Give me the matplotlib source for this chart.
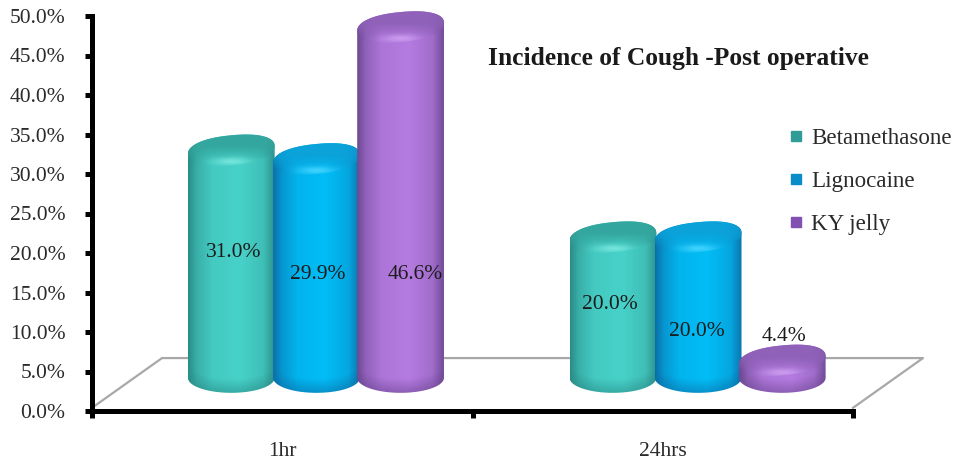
import numpy as np
from matplotlib import pyplot as plt
from matplotlib.colors import to_rgb
from matplotlib.lines import Line2D
from matplotlib.path import Path
from matplotlib.ticker import FixedLocator, FuncFormatter, NullFormatter

plt.rcParams['font.family'] = ['Liberation Serif', 'DejaVu Serif']

categories = ['1hr', '24hrs']
series_names = ['Betamethasone', 'Lignocaine', 'KY jelly']
betamethasone = [31.0, 20.0]
lignocaine = [29.9, 20.0]
ky_jelly = [46.6, 4.4]
series_values = [betamethasone, lignocaine, ky_jelly]

# label places, they do not follow the bar tops
label_heights = [[20.1, 13.5], [17.3, 10.0], [17.3, 9.4]]
label_x = [[0.371, 1.361], [0.594, 1.590], [0.849, 1.819]]

# edge, body, cap, highlight
palettes = [
    ['#2a8d88', '#47d2c9', '#34a8a0', '#7be8de'],
    ['#0b6fa9', '#02bdf6', '#0ba2da', '#4ad6ff'],
    ['#6d4893', '#b57be1', '#9062ba', '#cda0f0'],
]
legend_colors = ['#2f9c96', '#0a8cc8', '#8250b0']

# 3D look of the floor, in data units
floor_y = 4.2
top_shift = 2.0
half_w = 0.114
radius_y = 1.9
tilt = 4.5
offsets = [-0.217, 0.007, 0.228]
centers = [0.583, 1.586]


def side_ramp(u):
    return np.interp(u, [0, 0.1, 0.28, 0.6, 0.87, 1], [0, 0.5, 0.88, 1, 0.72, 0.08])


def rounded(t):
    # a bit squarer than an ellipse, gives the round shoulders of the cap
    c, s = np.cos(t), np.sin(t)
    return np.sign(c) * np.abs(c) ** 0.88, np.sign(s) * np.abs(s) ** 0.88


def body_image(pal, y0, y1):
    u, y = np.meshgrid(np.linspace(0, 1, 128), np.linspace(y0, y1, 300))
    t = side_ramp(u)[..., None]
    edge = np.array(to_rgb(pal[0]))
    img = edge * (1 - t) + np.array(to_rgb(pal[1])) * t
    # darker towards the bottom rim
    lower = floor_y - radius_y * np.sqrt(np.clip(1 - (2 * u - 1) ** 2, 0, 1))
    dark = np.clip(1 - (y - lower) / 1.8, 0, 1)[..., None] * 0.55
    return img * (1 - dark) + edge * dark


def cap_image(pal):
    s, v = np.meshgrid(np.linspace(0, 1, 80), np.linspace(-1, 1, 60))
    u = 2 * s - 1
    t = side_ramp(s)[..., None]
    edge = np.array(to_rgb(pal[0]))
    rim = edge * (1 - t) + np.array(to_rgb(pal[1])) * t
    base = np.array(to_rgb(pal[2]))
    high = np.array(to_rgb(pal[3]))
    # v=-1 is the front rim, it runs into the body without a seam
    front = np.clip((0.15 - v) / 0.8, 0, 1)[..., None]
    blob = np.exp(-(u / 0.4) ** 2 - ((v + 0.62) / 0.2) ** 2)[..., None] * 0.85
    side = (np.abs(u) ** 6)[..., None] * 0.3
    img = base * (1 - front) + rim * front
    img = img * (1 - side) + edge * side
    return img * (1 - blob) + high * blob


def draw_cylinder(ax, xc, value, pal, z):
    top_y = value + top_shift
    t = np.linspace(0, np.pi, 80)
    cx, sy = rounded(t)
    # outline: top arc from right to left, bottom arc from left to right
    top_x = xc + half_w * cx
    top_line = top_y + radius_y * sy + tilt * half_w * cx
    bot_x = xc - half_w * np.cos(t)
    bot_line = floor_y - radius_y * np.sin(t)
    verts = np.vstack([np.column_stack([top_x, top_line]),
                       np.column_stack([bot_x, bot_line])])
    outline = Path(np.vstack([verts, verts[:1]]), closed=True)
    y0, y1 = floor_y - radius_y - 1, top_y + radius_y + 2
    im = ax.imshow(body_image(pal, y0, y1), extent=(xc - half_w, xc + half_w, y0, y1),
                   aspect='auto', interpolation='bilinear', zorder=z, origin='lower')
    im.set_clip_path(outline, ax.transData)
    im.set_clip_box(fig.bbox)

    t = np.linspace(0, 2 * np.pi, 160)
    cx, sy = rounded(t)
    cap_x = xc + half_w * cx
    cap_y = top_y + radius_y * sy + tilt * half_w * cx
    cap = Path(np.column_stack([cap_x, cap_y]), closed=True)
    span = radius_y + tilt * half_w
    im = ax.imshow(cap_image(pal), extent=(xc - half_w, xc + half_w, top_y - span, top_y + span),
                   aspect='auto', interpolation='bilinear', zorder=z + 0.1, origin='lower')
    im.set_clip_path(cap, ax.transData)
    im.set_clip_box(fig.bbox)


fig = plt.figure(figsize=(9.57, 4.63), dpi=100)
ax = fig.add_axes([92 / 957, 1 - 411 / 463, (853 - 92) / 957, (411 - 16) / 463])

for i, values in enumerate(series_values):
    for j, v in enumerate(values):
        xc = centers[j] + offsets[i]
        draw_cylinder(ax, xc, v, palettes[i], 3 + i)
        ax.text(label_x[i][j], label_heights[i][j], '%.1f%%' % v, ha='center', va='center',
                fontsize=15.5, color='#1c1c1c', zorder=10)

# floor
ax.plot([0, 0.184, 2.184, 2], [0.4, 6.7, 6.7, 0.4], color='#a8a8a8', lw=1.6,
        clip_on=False, zorder=1)

ax.set_xlim(0, 2)
ax.set_ylim(0, 50)
ax.spines['top'].set_visible(False)
ax.spines['right'].set_visible(False)
ax.spines['left'].set_linewidth(3.6)
ax.spines['bottom'].set_linewidth(3.6)
ax.spines['left'].set_zorder(6)
ax.spines['bottom'].set_zorder(6)
ax.patch.set_visible(False)

ax.set_yticks(np.arange(0, 51, 5))
ax.yaxis.set_major_formatter(FuncFormatter(lambda v, p: '%.1f%%' % v))
ax.tick_params(axis='y', length=5, width=3.6, labelsize=15.5, labelcolor='#2a2a2a', pad=14)
ax.xaxis.set_major_locator(FixedLocator([0, 1, 2]))
ax.xaxis.set_major_formatter(NullFormatter())
ax.xaxis.set_minor_locator(FixedLocator([0.5, 1.5]))
ax.set_xticklabels(categories, minor=True)
ax.tick_params(axis='x', which='major', length=5, width=3.6)
ax.tick_params(axis='x', which='minor', length=0, labelsize=15.5, labelcolor='#2a2a2a', pad=22)

fig.text(678 / 957, 1 - 58 / 463, 'Incidence of Cough -Post operative', ha='center', va='center',
         fontsize=18.4, fontweight='bold', color='#1a1a1a')

handles = [Line2D([], [], linestyle='none', marker='s', markersize=7.5, color=c) for c in legend_colors]
fig.legend(handles, series_names, loc='center left', bbox_to_anchor=(782 / 957, 1 - 181.5 / 463),
           frameon=False, fontsize=16.6, labelspacing=0.93, handletextpad=0.05, handlelength=1.2,
           labelcolor='#2a2a2a', borderpad=0, borderaxespad=0)

fig.savefig('out.png', dpi=100, facecolor='white')
